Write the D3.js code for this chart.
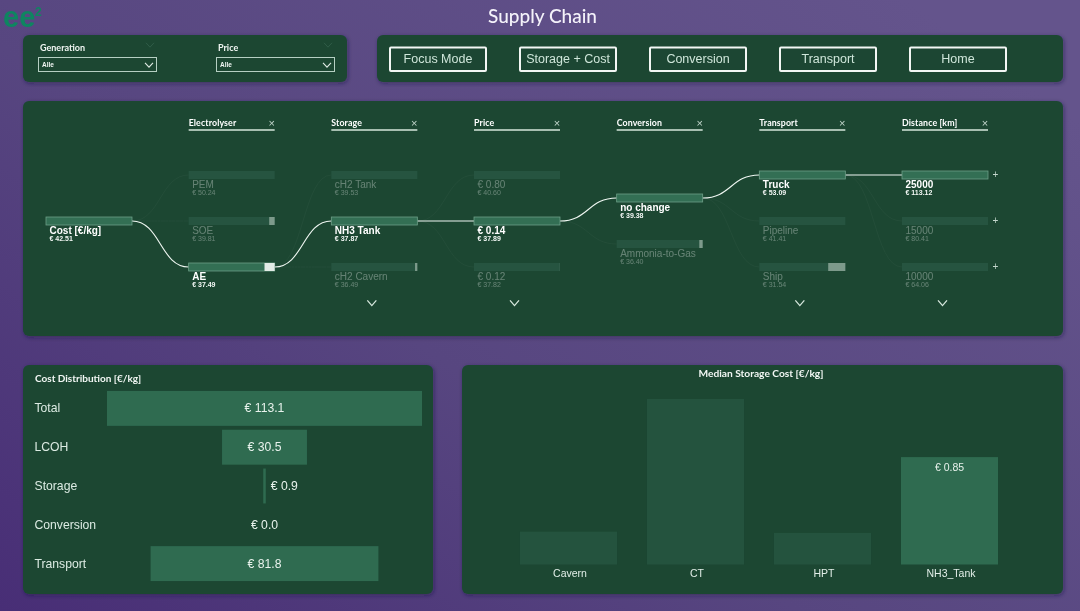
<!DOCTYPE html>
<html><head><meta charset="utf-8">
<script src="https://cdn.jsdelivr.net/npm/d3@7/dist/d3.min.js"></script>
<style>
html,body{margin:0;padding:0;width:1080px;height:611px;overflow:hidden;background:#564580}
svg{display:block;filter:blur(.3px)}
</style></head><body><svg id="c" width="1080" height="611"></svg>
<script>
// ---- data ----
const filterNames = ["Generation","Price"];
const filterValue = "Alle";
const buttonNames = ["Focus Mode","Storage + Cost","Conversion","Transport","Home"];
const treeLevels = ["Electrolyser","Storage","Price","Conversion","Transport","Distance [km]"];
const rootLabel = "Cost [€/kg]";
const rootValue = 42.51;
const electrolyserLabels = ["PEM","SOE","AE"];
const electrolyserValues = [50.24,39.81,37.49];
const storageLabels = ["cH2 Tank","NH3 Tank","cH2 Cavern"];
const storageValues = [39.53,37.87,36.49];
const priceLabels = ["€ 0.80","€ 0.14","€ 0.12"];
const priceValues = [40.60,37.89,37.82];
const conversionLabels = ["no change","Ammonia-to-Gas"];
const conversionValues = [39.38,36.40];
const transportLabels = ["Truck","Pipeline","Ship"];
const transportValues = [53.09,41.41,31.54];
const distanceLabels = ["25000","15000","10000"];
const distanceValues = [113.12,80.41,64.06];
const selectedLabels = [rootLabel,"AE","NH3 Tank","€ 0.14","no change","Truck","25000"];
const levelsWithMore = ["Storage","Price","Transport","Distance [km]"];
const costCategories = ["Total","LCOH","Storage","Conversion","Transport"];
const costValues = [113.1,30.5,0.9,0.0,81.8];
const storageCategories = ["Cavern","CT","HPT","NH3_Tank"];
const storageCosts = [0.26,1.31,0.25,0.85];
const highlightedStorage = "NH3_Tank";

// ---- palette ----
const white="#ffffff", panel="#1c4633", barMid="#2f6b50", barDim="#24533e";
const bodyFont="'Liberation Sans',Arial,sans-serif", headFont="Lato,'Open Sans',sans-serif";

const svg=d3.select("#c");
const defs=svg.append("defs");
const bg=defs.append("linearGradient").attr("id","bg").attr("x1",0).attr("y1",1).attr("x2",1).attr("y2",0.2);
bg.append("stop").attr("offset","0%").attr("stop-color","#482e76");
bg.append("stop").attr("offset","45%").attr("stop-color","#574680");
bg.append("stop").attr("offset","100%").attr("stop-color","#64548c");
const sh=defs.append("filter").attr("id","sh").attr("x","-5%").attr("y","-10%").attr("width","110%").attr("height","120%");
sh.append("feDropShadow").attr("dx",1).attr("dy",1.5).attr("stdDeviation",2).attr("flood-color","#1a1a3a").attr("flood-opacity",.45);
svg.append("rect").attr("width",1080).attr("height",611).attr("fill","url(#bg)");

const panelBoxes=[[23,35,324,47],[377,35,686,47],[23,101,1040,235],[23,365,410,229],[462,365,601,229]];
svg.selectAll("rect.p").data(panelBoxes).join("rect").attr("class","p")
  .attr("x",d=>d[0]).attr("y",d=>d[1]).attr("width",d=>d[2]).attr("height",d=>d[3])
  .attr("rx",6).attr("fill",panel).attr("filter","url(#sh)");

function chev(g,x,y,w,h,color,sw){
  g.append("path").attr("d",d3.line()([[x-w,y-h],[x,y+h],[x+w,y-h]])).attr("fill","none").attr("stroke",color).attr("stroke-width",sw);
}
function txt(g,x,y,s,size,color,opts={}){
  return g.append("text").attr("x",x).attr("y",y).text(s).attr("font-size",size).attr("fill",color)
    .attr("font-family",opts.font||bodyFont).attr("font-weight",opts.weight||"normal")
    .attr("text-anchor",opts.anchor||"start").attr("opacity",opts.opacity==null?1:opts.opacity);
}

// title + logo
txt(svg,542.5,23,"Supply Chain",19,"#f4f2fa",{anchor:"middle",font:headFont,weight:500});
txt(svg,3,26.5,"ee",29,"#0e8560",{weight:"bold"});
txt(svg,35,16,"2",12,"#0e8560",{weight:"bold"});

// filters
const fx=d3.scalePoint().domain(filterNames).range([38,216]);
filterNames.forEach(n=>{
  const x=fx(n);
  txt(svg,x+2,51,n,9,"#f0f5f2",{font:headFont,weight:700});
  chev(svg,x+112,45,4,2.2,"#2f5c47",1);
  svg.append("rect").attr("x",x+.5).attr("y",57.5).attr("width",118).attr("height",14).attr("fill","none").attr("stroke","#b6d0c3").attr("stroke-width",1);
  txt(svg,x+4,67,filterValue,6.5,"#f0f5f2",{weight:700});
  chev(svg,x+111,65,4,2.2,"#dfeae4",1.1);
});

// buttons
const bx=d3.scalePoint().domain(buttonNames).range([390,910]);
buttonNames.forEach(n=>{
  svg.append("rect").attr("x",bx(n)).attr("y",47.5).attr("width",96).attr("height",23.5).attr("rx",1).attr("fill",panel).attr("stroke","#f2f7f4").attr("stroke-width",2);
  txt(svg,bx(n)+48,63,n,12.5,"#cfe6da",{anchor:"middle"});
});

// decomposition tree
const allLabels=[[rootLabel],electrolyserLabels,storageLabels,priceLabels,conversionLabels,transportLabels,distanceLabels];
const allValues=[[rootValue],electrolyserValues,storageValues,priceValues,conversionValues,transportValues,distanceValues];
const nodeW=86, nodeH=8;
const lx=d3.scaleLinear().domain([0,6]).range([46,902]);
const rowStep=46, treeMid=221;
const ny=(i,n)=>treeMid+(i-(n-1)/2)*rowStep;
const tree=svg.append("g");

// headers
treeLevels.forEach((name,k)=>{
  const x=lx(k+1);
  txt(tree,x,126,name,8.8,white,{font:headFont,weight:700}).attr("letter-spacing",.12);
  tree.append("line").attr("x1",x).attr("x2",x+nodeW).attr("y1",130).attr("y2",130).attr("stroke","#d6e7dd").attr("stroke-width",1.4);
  txt(tree,x+83,127,"×",11,"#c3d6cc",{anchor:"middle"});
  if(levelsWithMore.includes(name)) chev(tree,x+nodeW/2-2.5,303,4.5,2.6,"#d6e7dd",1.3);
});

const link=d3.linkHorizontal();
const selIdx=allLabels.map((ls,k)=>ls.indexOf(selectedLabels[k]));
// links
for(let k=0;k<allLabels.length-1;k++){
  const s=selIdx[k], n0=allLabels[k].length, n1=allLabels[k+1].length;
  allLabels[k+1].forEach((_,j)=>{
    const on=j===selIdx[k+1];
    tree.append("path").attr("fill","none")
      .attr("d",link({source:[lx(k)+nodeW,ny(s,n0)],target:[lx(k+1),ny(j,n1)]}))
      .attr("stroke",on?"#eef6f1":"#ffffff").attr("stroke-opacity",on?1:.03)
      .attr("stroke-width",on?1.15:1);
  });
}
// nodes
allLabels.forEach((labels,k)=>{
  const parent=k===0?null:allValues[k-1][selIdx[k-1]];
  const w=d3.scaleLinear().domain([0,parent||allValues[k][0]]).range([0,nodeW]).clamp(true);
  labels.forEach((lab,i)=>{
    const v=allValues[k][i], x=lx(k), y=ny(i,labels.length), on=i===selIdx[k];
    tree.append("rect").attr("x",x).attr("y",y-nodeH/2).attr("width",nodeW).attr("height",nodeH)
      .attr("fill",on?"#336f54":"#265440")
      .attr("stroke",on?"#6d9f87":"none").attr("stroke-width",on?.8:0);
    const rest=nodeW-w(v);
    if(rest>0) tree.append("rect").attr("x",x+w(v)).attr("y",y-nodeH/2).attr("width",rest).attr("height",nodeH)
      .attr("fill",on?"#e2ebe6":"#7d9a8b");
    const tx=x+3.5;
    txt(tree,tx,y+13,lab,10,white,{weight:on?"bold":"normal",opacity:on?1:.32});
    txt(tree,tx,y+20,"€ "+v.toFixed(2),7,on?"#f2f7f4":white,{weight:on?"bold":"normal",opacity:on?1:.32});
    if(k===allLabels.length-1) txt(tree,x+nodeW+7.5,y+3,"+",10,"#c3d6cc",{anchor:"middle"});
  });
});

// cost distribution
txt(svg,35,381.5,"Cost Distribution [€/kg]",10,"#f2f7f4",{font:headFont,weight:700});
const cy=d3.scaleBand().domain(costCategories).range([389,583]).paddingInner(.1).paddingOuter(.05);
const cw=d3.scaleLinear().domain([0,d3.max(costValues)]).range([0,315]);
const cx0=264.5;
svg.append("g").selectAll("rect").data(costCategories).join("rect")
  .attr("x",(d,i)=>cx0-cw(costValues[i])/2).attr("y",d=>cy(d)).attr("width",(d,i)=>cw(costValues[i])).attr("height",cy.bandwidth()).attr("fill",barMid);
costCategories.forEach((c,i)=>{
  const ym=cy(c)+cy.bandwidth()/2+4;
  txt(svg,34.5,ym,c,12.2,"#dcebe3");
  const bw=cw(costValues[i]);
  const s="€ "+costValues[i].toFixed(1);
  if(bw>20||bw===0) txt(svg,cx0,ym,s,12.2,"#e8f2ec",{anchor:"middle"});
  else txt(svg,cx0+bw/2+5,ym,s,12.2,"#e8f2ec");
});

// median storage cost
txt(svg,761,377,"Median Storage Cost [€/kg]",10.2,"#f2f7f4",{anchor:"middle",font:headFont,weight:700});
const sx=d3.scaleBand().domain(storageCategories).range([505,1013]).paddingInner(.236).paddingOuter(.118);
const sy=d3.scaleLinear().domain([0,d3.max(storageCosts)]).range([564.5,399]);
svg.append("g").selectAll("rect").data(storageCategories).join("rect")
  .attr("x",d=>sx(d)).attr("width",sx.bandwidth())
  .attr("y",(d,i)=>sy(storageCosts[i])).attr("height",(d,i)=>sy(0)-sy(storageCosts[i]))
  .attr("fill",d=>d===highlightedStorage?barMid:barDim);
const ax=svg.append("g").attr("transform","translate(1.5,564.5)").call(d3.axisBottom(sx).tickSize(0).tickPadding(5));
ax.select(".domain").remove();
ax.selectAll("text").attr("font-size",10.5).attr("font-family",bodyFont).attr("fill","#e2eee8");
const hi=storageCategories.indexOf(highlightedStorage);
txt(svg,sx(highlightedStorage)+sx.bandwidth()/2,471,"€ "+storageCosts[hi].toFixed(2),10.5,"#e8f2ec",{anchor:"middle"});
</script></body></html>
